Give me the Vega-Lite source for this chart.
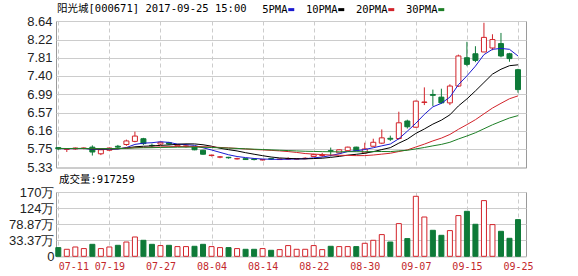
{
  "$schema": "https://vega.github.io/schema/vega-lite/v6.json",
  "background": "white",
  "padding": {"left": 7, "top": 3, "right": 0, "bottom": 0},
  "bounds": "flush",
  "spacing": 24,
  "config": {
    "view": {"stroke": "#9a9a9a", "strokeWidth": 1},
    "axis": {"gridColor": "#cccccc", "gridWidth": 1, "ticks": false, "domain": false, "title": null, "labelOverlap": false}
  },
  "data": {"values": [
    {"date":"07-11","open":5.78,"high":5.79,"low":5.73,"close":5.75,"vol":12.5,"5PMA":5.758,"10PMA":5.759,"20PMA":5.760,"30PMA":5.760},
    {"date":"07-12","open":5.74,"high":5.76,"low":5.68,"close":5.745,"vol":7.7,"5PMA":5.755,"10PMA":5.758,"20PMA":5.759,"30PMA":5.759},
    {"date":"07-13","open":5.75,"high":5.78,"low":5.73,"close":5.77,"vol":14.2,"5PMA":5.757,"10PMA":5.759,"20PMA":5.759,"30PMA":5.760},
    {"date":"07-14","open":5.76,"high":5.78,"low":5.74,"close":5.77,"vol":9.7,"5PMA":5.759,"10PMA":5.760,"20PMA":5.760,"30PMA":5.760},
    {"date":"07-17","open":5.79,"high":5.83,"low":5.60,"close":5.68,"vol":21.8,"5PMA":5.743,"10PMA":5.752,"20PMA":5.756,"30PMA":5.757},
    {"date":"07-18","open":5.64,"high":5.74,"low":5.61,"close":5.73,"vol":9.7,"5PMA":5.739,"10PMA":5.749,"20PMA":5.754,"30PMA":5.756},
    {"date":"07-19","open":5.72,"high":5.78,"low":5.70,"close":5.77,"vol":14.2,"5PMA":5.744,"10PMA":5.750,"20PMA":5.755,"30PMA":5.757},
    {"date":"07-20","open":5.81,"high":5.84,"low":5.76,"close":5.79,"vol":19.0,"5PMA":5.748,"10PMA":5.753,"20PMA":5.757,"30PMA":5.758},
    {"date":"07-21","open":5.85,"high":5.96,"low":5.82,"close":5.93,"vol":28.3,"5PMA":5.780,"10PMA":5.770,"20PMA":5.765,"30PMA":5.763},
    {"date":"07-24","open":5.92,"high":6.14,"low":5.90,"close":6.04,"vol":42.5,"5PMA":5.852,"10PMA":5.798,"20PMA":5.778,"30PMA":5.773},
    {"date":"07-25","open":5.98,"high":6.00,"low":5.84,"close":5.87,"vol":33.2,"5PMA":5.880,"10PMA":5.810,"20PMA":5.784,"30PMA":5.776},
    {"date":"07-26","open":5.83,"high":5.87,"low":5.77,"close":5.82,"vol":21.8,"5PMA":5.890,"10PMA":5.817,"20PMA":5.788,"30PMA":5.778},
    {"date":"07-27","open":5.86,"high":5.91,"low":5.84,"close":5.90,"vol":18.2,"5PMA":5.912,"10PMA":5.830,"20PMA":5.795,"30PMA":5.783},
    {"date":"07-28","open":5.89,"high":5.91,"low":5.84,"close":5.86,"vol":19.0,"5PMA":5.898,"10PMA":5.839,"20PMA":5.800,"30PMA":5.786},
    {"date":"07-31","open":5.82,"high":5.86,"low":5.80,"close":5.84,"vol":15.3,"5PMA":5.858,"10PMA":5.855,"20PMA":5.804,"30PMA":5.789},
    {"date":"08-01","open":5.80,"high":5.84,"low":5.78,"close":5.82,"vol":15.3,"5PMA":5.848,"10PMA":5.864,"20PMA":5.807,"30PMA":5.791},
    {"date":"08-02","open":5.79,"high":5.80,"low":5.72,"close":5.73,"vol":16.2,"5PMA":5.830,"10PMA":5.863,"20PMA":5.806,"30PMA":5.791},
    {"date":"08-03","open":5.72,"high":5.73,"low":5.62,"close":5.63,"vol":21.8,"5PMA":5.776,"10PMA":5.844,"20PMA":5.800,"30PMA":5.787},
    {"date":"08-04","open":5.60,"high":5.62,"low":5.58,"close":5.61,"vol":15.3,"5PMA":5.726,"10PMA":5.812,"20PMA":5.792,"30PMA":5.782},
    {"date":"08-07","open":5.565,"high":5.59,"low":5.54,"close":5.57,"vol":12.5,"5PMA":5.672,"10PMA":5.765,"20PMA":5.783,"30PMA":5.775},
    {"date":"08-08","open":5.56,"high":5.57,"low":5.53,"close":5.55,"vol":12.5,"5PMA":5.618,"10PMA":5.733,"20PMA":5.773,"30PMA":5.768},
    {"date":"08-09","open":5.525,"high":5.55,"low":5.51,"close":5.53,"vol":9.7,"5PMA":5.578,"10PMA":5.704,"20PMA":5.762,"30PMA":5.761},
    {"date":"08-10","open":5.53,"high":5.54,"low":5.50,"close":5.51,"vol":7.7,"5PMA":5.554,"10PMA":5.665,"20PMA":5.749,"30PMA":5.752},
    {"date":"08-11","open":5.52,"high":5.53,"low":5.49,"close":5.51,"vol":7.7,"5PMA":5.534,"10PMA":5.630,"20PMA":5.736,"30PMA":5.744},
    {"date":"08-14","open":5.50,"high":5.52,"low":5.49,"close":5.51,"vol":9.7,"5PMA":5.522,"10PMA":5.597,"20PMA":5.728,"30PMA":5.736},
    {"date":"08-15","open":5.53,"high":5.53,"low":5.50,"close":5.52,"vol":4.9,"5PMA":5.516,"10PMA":5.567,"20PMA":5.717,"30PMA":5.728},
    {"date":"08-16","open":5.51,"high":5.53,"low":5.50,"close":5.52,"vol":6.8,"5PMA":5.514,"10PMA":5.546,"20PMA":5.705,"30PMA":5.720},
    {"date":"08-17","open":5.52,"high":5.56,"low":5.50,"close":5.53,"vol":18.2,"5PMA":5.518,"10PMA":5.536,"20PMA":5.690,"30PMA":5.712},
    {"date":"08-18","open":5.52,"high":5.54,"low":5.51,"close":5.53,"vol":7.7,"5PMA":5.522,"10PMA":5.528,"20PMA":5.670,"30PMA":5.704},
    {"date":"08-21","open":5.53,"high":5.56,"low":5.52,"close":5.54,"vol":7.7,"5PMA":5.528,"10PMA":5.525,"20PMA":5.645,"30PMA":5.697},
    {"date":"08-22","open":5.58,"high":5.64,"low":5.57,"close":5.62,"vol":18.2,"5PMA":5.548,"10PMA":5.532,"20PMA":5.633,"30PMA":5.693},
    {"date":"08-23","open":5.60,"high":5.66,"low":5.57,"close":5.61,"vol":6.8,"5PMA":5.566,"10PMA":5.540,"20PMA":5.622,"30PMA":5.688},
    {"date":"08-24","open":5.71,"high":5.78,"low":5.58,"close":5.70,"vol":16.2,"5PMA":5.600,"10PMA":5.559,"20PMA":5.612,"30PMA":5.686},
    {"date":"08-25","open":5.66,"high":5.74,"low":5.65,"close":5.73,"vol":15.3,"5PMA":5.640,"10PMA":5.581,"20PMA":5.606,"30PMA":5.684},
    {"date":"08-28","open":5.71,"high":5.80,"low":5.70,"close":5.79,"vol":15.3,"5PMA":5.690,"10PMA":5.609,"20PMA":5.603,"30PMA":5.688},
    {"date":"08-29","open":5.79,"high":5.80,"low":5.70,"close":5.71,"vol":15.3,"5PMA":5.708,"10PMA":5.628,"20PMA":5.598,"30PMA":5.687},
    {"date":"08-30","open":5.66,"high":5.89,"low":5.65,"close":5.75,"vol":24.7,"5PMA":5.736,"10PMA":5.651,"20PMA":5.599,"30PMA":5.687},
    {"date":"08-31","open":5.81,"high":5.98,"low":5.80,"close":5.90,"vol":33.2,"5PMA":5.776,"10PMA":5.688,"20PMA":5.612,"30PMA":5.689},
    {"date":"09-01","open":5.88,"high":6.19,"low":5.86,"close":6.00,"vol":49.3,"5PMA":5.82,"10PMA":5.735,"20PMA":5.632,"30PMA":5.692},
    {"date":"09-04","open":5.99,"high":6.05,"low":5.93,"close":5.97,"vol":28.3,"5PMA":5.86,"10PMA":5.778,"20PMA":5.652,"30PMA":5.689},
    {"date":"09-05","open":5.985,"high":6.59,"low":5.96,"close":6.34,"vol":80.4,"5PMA":5.98,"10PMA":5.88,"20PMA":5.691,"30PMA":5.705},
    {"date":"09-06","open":6.38,"high":6.41,"low":6.21,"close":6.25,"vol":38.0,"5PMA":6.15,"10PMA":5.97,"20PMA":5.727,"30PMA":5.719},
    {"date":"09-07","open":6.24,"high":6.84,"low":6.23,"close":6.83,"vol":157.7,"5PMA":6.33,"10PMA":6.10,"20PMA":5.793,"30PMA":5.750},
    {"date":"09-08","open":6.80,"high":7.14,"low":6.74,"close":6.81,"vol":99.1,"5PMA":6.53,"10PMA":6.20,"20PMA":5.858,"30PMA":5.782},
    {"date":"09-11","open":6.98,"high":7.09,"low":6.72,"close":6.96,"vol":61.5,"5PMA":6.70,"10PMA":6.31,"20PMA":5.931,"30PMA":5.819},
    {"date":"09-12","open":6.92,"high":7.11,"low":6.77,"close":6.79,"vol":47.3,"5PMA":6.78,"10PMA":6.40,"20PMA":5.994,"30PMA":5.852},
    {"date":"09-13","open":6.79,"high":7.21,"low":6.74,"close":7.17,"vol":60.6,"5PMA":6.92,"10PMA":6.52,"20PMA":6.077,"30PMA":5.900},
    {"date":"09-14","open":7.17,"high":7.88,"low":7.15,"close":7.85,"vol":103.1,"5PMA":7.20,"10PMA":6.72,"20PMA":6.193,"30PMA":5.974},
    {"date":"09-15","open":7.81,"high":8.17,"low":7.62,"close":7.66,"vol":115.2,"5PMA":7.40,"10PMA":6.88,"20PMA":6.299,"30PMA":6.042},
    {"date":"09-18","open":7.90,"high":8.07,"low":7.71,"close":7.75,"vol":78.5,"5PMA":7.62,"10PMA":7.06,"20PMA":6.410,"30PMA":6.115},
    {"date":"09-19","open":7.94,"high":8.60,"low":7.94,"close":8.27,"vol":145.5,"5PMA":7.88,"10PMA":7.25,"20PMA":6.542,"30PMA":6.205},
    {"date":"09-20","open":8.03,"high":8.34,"low":7.98,"close":8.22,"vol":77.6,"5PMA":8.00,"10PMA":7.44,"20PMA":6.673,"30PMA":6.295},
    {"date":"09-21","open":8.13,"high":8.37,"low":7.82,"close":7.85,"vol":58.6,"5PMA":8.02,"10PMA":7.55,"20PMA":6.780,"30PMA":6.373},
    {"date":"09-22","open":7.90,"high":7.92,"low":7.72,"close":7.79,"vol":38.8,"5PMA":8.00,"10PMA":7.63,"20PMA":6.883,"30PMA":6.449},
    {"date":"09-25","open":7.54,"high":7.56,"low":7.02,"close":7.09,"vol":91.7,"5PMA":7.85,"10PMA":7.65,"20PMA":6.948,"30PMA":6.502}
  ]},
  "vconcat": [
    {
      "width": 470,
      "height": 146.5,
      "title": {"text": "阳光城[000671] 2017-09-25 15:00", "anchor": "start", "frame": "group", "dx": 1, "offset": 1, "font": "DejaVu Sans Mono, Noto Sans CJK SC", "fontSize": 10.5, "fontWeight": "normal", "color": "#000000"},
      "encoding": {
        "x": {"field": "date", "type": "ordinal", "sort": null,
          "scale": {"type": "point", "padding": 0.605, "align": 0.223},
          "axis": {"values": ["07-11","07-19","07-27","08-04","08-14","08-22","08-30","09-07","09-15","09-25"], "labels": false, "grid": true, "gridDash": [4, 3], "minExtent": 0, "maxExtent": 0}}
      },
      "layer": [
        {
          "mark": {"type": "rule", "strokeWidth": 1},
          "encoding": {
            "y": {"field": "low", "type": "quantitative",
              "scale": {"domain": [5.33, 8.64], "nice": false, "zero": false},
              "axis": {"values": [5.33, 5.75, 6.16, 6.57, 6.99, 7.40, 7.81, 8.22, 8.64], "format": ".2f", "grid": true, "labelOverlap": false, "labelFont": "Liberation Sans", "labelFontSize": 13, "labelColor": "#222222", "labelPadding": 4}},
            "y2": {"field": "high"},
            "color": {"condition": {"test": "datum.close >= datum.open", "value": "#d2232a"}, "value": "#0e7a38"}
          }
        },
        {
          "mark": {"type": "bar", "width": 5, "strokeWidth": 1},
          "encoding": {
            "y": {"field": "open", "type": "quantitative",
              "axis": {"values": [5.33, 5.75, 6.16, 6.57, 6.99, 7.40, 7.81, 8.22, 8.64], "format": ".2f", "grid": true, "labelOverlap": false, "labelFont": "Liberation Sans", "labelFontSize": 13, "labelColor": "#222222", "labelPadding": 4}},
            "y2": {"field": "close"},
            "fill": {"condition": {"test": "datum.close >= datum.open", "value": "#ffffff"}, "value": "#0e7a38"},
            "stroke": {"condition": {"test": "datum.close >= datum.open", "value": "#d2232a"}, "value": "#0e7a38"}
          }
        },
        {
          "transform": [{"fold": ["5PMA", "10PMA", "20PMA", "30PMA"], "as": ["ma", "val"]}],
          "mark": {"type": "line", "strokeWidth": 1},
          "encoding": {
            "y": {"field": "val", "type": "quantitative",
              "axis": {"values": [5.33, 5.75, 6.16, 6.57, 6.99, 7.40, 7.81, 8.22, 8.64], "format": ".2f", "grid": true, "labelOverlap": false, "labelFont": "Liberation Sans", "labelFontSize": 13, "labelColor": "#222222", "labelPadding": 4}},
            "color": {"field": "ma", "type": "nominal",
              "scale": {"domain": ["5PMA", "10PMA", "20PMA", "30PMA"], "range": ["#1a1ad0", "#000000", "#d2232a", "#1d7f26"]},
              "legend": {"orient": "none", "legendX": 230, "legendY": -17, "direction": "horizontal", "title": null,
                "symbolType": "stroke", "symbolSize": 36, "symbolStrokeWidth": 3,
                "labelAlign": "right", "labelOffset": -9, "columnPadding": 4,
                "labelFont": "DejaVu Sans Mono", "labelFontSize": 10.5, "labelColor": "#000000"}}
          }
        }
      ]
    },
    {
      "width": 470,
      "height": 64.3,
      "title": {"text": "成交量:917259", "anchor": "start", "frame": "group", "dx": 3, "offset": 1, "font": "DejaVu Sans Mono, Noto Sans CJK SC", "fontSize": 10.5, "fontWeight": "normal", "color": "#000000"},
      "mark": {"type": "bar", "width": 5, "strokeWidth": 1},
      "encoding": {
        "x": {"field": "date", "type": "ordinal", "sort": null,
          "scale": {"type": "point", "padding": 0.605, "align": 0.223},
          "axis": {"values": ["07-11","07-19","07-27","08-04","08-14","08-22","08-30","09-07","09-15","09-25"], "labelAngle": 0, "labelFlush": 5, "grid": true, "gridDash": [4, 3], "labelColor": "#c3272b", "labelFont": "DejaVu Sans Mono", "labelFontSize": 10, "labelPadding": 5}},
        "y": {"field": "vol", "type": "quantitative",
          "scale": {"domain": [-12.13, 169.87], "nice": false, "zero": false},
          "axis": {"values": [-12.13, 33.37, 78.87, 124.37, 169.87], "grid": true, "labelOverlap": false, "labelFont": "Liberation Sans", "labelFontSize": 13, "labelColor": "#222222", "labelPadding": 2,
            "labelExpr": "datum.value < 0 ? '0' : datum.value > 169 ? '170万' : datum.value > 124 ? '124万' : format(datum.value, '.2f') + '万'"}},
        "y2": {"datum": -12.13},
        "fill": {"condition": {"test": "datum.close >= datum.open", "value": "#ffffff"}, "value": "#0e7a38"},
        "stroke": {"condition": {"test": "datum.close >= datum.open", "value": "#d2232a"}, "value": "#0e7a38"}
      }
    }
  ]
}
